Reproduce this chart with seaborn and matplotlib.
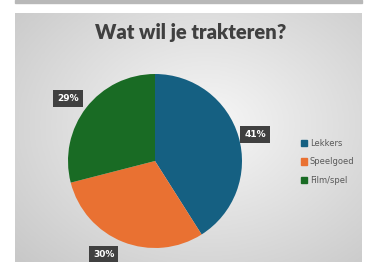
import numpy as np
import pandas as pd
import matplotlib
matplotlib.use("Agg")
import matplotlib.pyplot as plt
import seaborn as sns
from matplotlib.patches import Rectangle

# chart data
categories = ["Lekkers", "Speelgoed", "Film/spel"]
shares = [41, 30, 29]
colors = ["#156082", "#E97132", "#196B24"]
title = "Wat wil je trakteren?"

sns.set_style("white")
plt.rcParams['font.family'] = ['DejaVu Sans']

W, H = 371, 262
fig = plt.figure(figsize=(W / 100, H / 100), dpi=100)
fig.patch.set_facecolor("white")

# gray strip at the very top
fig.patches.append(Rectangle((15 / W, 1 - 3 / H), (362 - 15) / W, 3 / H,
                             transform=fig.transFigure, color="#b8b8b8", zorder=0))

# chart area with radial gradient
bg = fig.add_axes([15 / W, 0, (362 - 15) / W, (262 - 13) / H])
yy, xx = np.mgrid[0:1:200j, 0:1:280j]
r = np.sqrt(((xx - 0.55) / 0.75) ** 2 + ((yy - 0.55) / 0.8) ** 2)
bg.imshow(np.clip(r, 0, 1), cmap=matplotlib.colors.LinearSegmentedColormap.from_list(
    "g", ["#f7f7f7", "#c8c8c8"]), aspect="auto", extent=[0, 1, 0, 1], origin="lower")
bg.set_axis_off()
bg.text(0.507, 1 - (32 - 13) / (262 - 13), title, ha="center", va="center",
        fontsize=14.5, fontweight="heavy", color="#404040", family="Lato",
        transform=bg.transAxes)

# pie
cx, cy, rad = 155, 161, 87
ax = fig.add_axes([(cx - rad) / W, (H - cy - rad) / H, 2 * rad / W, 2 * rad / H])
wedges, texts, autotexts = ax.pie(shares, colors=colors, startangle=90, counterclock=False,
                                  autopct="%d%%", pctdistance=1.2,
                                  wedgeprops=dict(linewidth=0))
ax.set_xlim(-1, 1)
ax.set_ylim(-1, 1)
ax.set_aspect("equal")

# Excel style best-fit label spots
label_pos = [(1.15, 0.30), (-0.59, -1.07), (-1.0, 0.72)]
for t, p in zip(autotexts, label_pos):
    t.set_position(p)
    t.set_color("white")
    t.set_fontweight("bold")
    t.set_fontsize(6.5)
    t.set_bbox(dict(boxstyle="square,pad=0.45", fc="#404040", ec="none"))
    t.set_clip_on(False)

handles = [Rectangle((0, 0), 1, 1, color=c) for c in colors]
leg = fig.legend(handles, categories, loc="center left",
                 bbox_to_anchor=(293 / W, 1 - 162 / H), frameon=False,
                 fontsize=6, handlelength=0.8, handleheight=0.8,
                 handletextpad=0.3, labelspacing=1.15, labelcolor="#595959")

fig.savefig("out.png", dpi=100)
